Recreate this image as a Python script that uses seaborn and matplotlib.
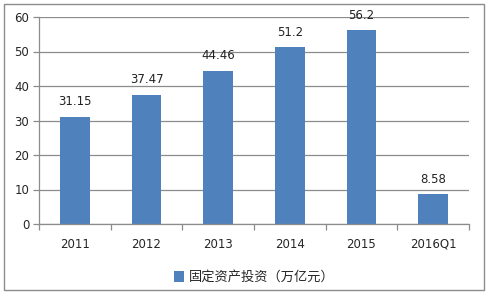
import matplotlib
matplotlib.use("Agg")
import matplotlib.pyplot as plt
import seaborn as sns
import pandas as pd
from matplotlib.patches import Rectangle

categories = ["2011", "2012", "2013", "2014", "2015", "2016Q1"]
values = [31.15, 37.47, 44.46, 51.2, 56.2, 8.58]
value_labels = ["31.15", "37.47", "44.46", "51.2", "56.2", "8.58"]
series_name = "固定资产投资（万亿元）"
y_ticks = [0, 10, 20, 30, 40, 50, 60]

sns.set_theme(style="white")
plt.rcParams['font.family'] = ['Noto Sans CJK SC', 'DejaVu Sans']

df = pd.DataFrame({"year": categories, "value": values})

fig = plt.figure(figsize=(4.87, 2.94), dpi=100)
ax = fig.add_axes([39/487, 1 - 224/294, (469-39)/487, (224-17)/294])

bar_color = "#4F81BD"
sns.barplot(data=df, x="year", y="value", color=bar_color, width=0.41,
            saturation=1, ax=ax, label=series_name, linewidth=0)

grid_c = "#8C8C8C"
ax.set_ylim(0, 60)
ax.set_xlim(-0.5, len(categories) - 0.5)
ax.set_yticks(y_ticks)
ax.set_yticklabels([str(t) for t in y_ticks], fontsize=8.5, family="DejaVu Sans")
ax.set_xticks(range(len(categories)))
ax.set_xticklabels(categories, fontsize=8.5, family="DejaVu Sans")
ax.set_xlabel("")
ax.set_ylabel("")
ax.yaxis.grid(True, color=grid_c, linewidth=0.9)
ax.set_axisbelow(True)
for s in ["top", "right"]:
    ax.spines[s].set_visible(False)
for s in ["left", "bottom"]:
    ax.spines[s].set_color(grid_c)
    ax.spines[s].set_linewidth(0.9)

ax.tick_params(axis="y", which="major", length=4, color=grid_c, width=0.9, left=True, pad=3)
ax.tick_params(axis="x", which="major", length=0, pad=10)
ax.set_xticks([i - 0.5 for i in range(len(categories) + 1)], minor=True)
ax.tick_params(axis="x", which="minor", length=4, color=grid_c, width=0.9, bottom=True)

for i, (v, lab) in enumerate(zip(values, value_labels)):
    ax.annotate(lab, (i, v), xytext=(0, 6), textcoords="offset points",
                ha="center", va="bottom", fontsize=8.5, family="DejaVu Sans", color="#222222")

leg = ax.legend(loc="upper center", bbox_to_anchor=(0.5, -0.17), frameon=False,
                fontsize=9.5, handlelength=0.8, handleheight=0.8, handletextpad=0.3)

fig.patches.append(Rectangle((4/487, 4/294), (484-4)/487, (290-4)/294,
                             transform=fig.transFigure, fill=False,
                             edgecolor="#8C8C8C", linewidth=1))

fig.savefig("out.png", dpi=100)
